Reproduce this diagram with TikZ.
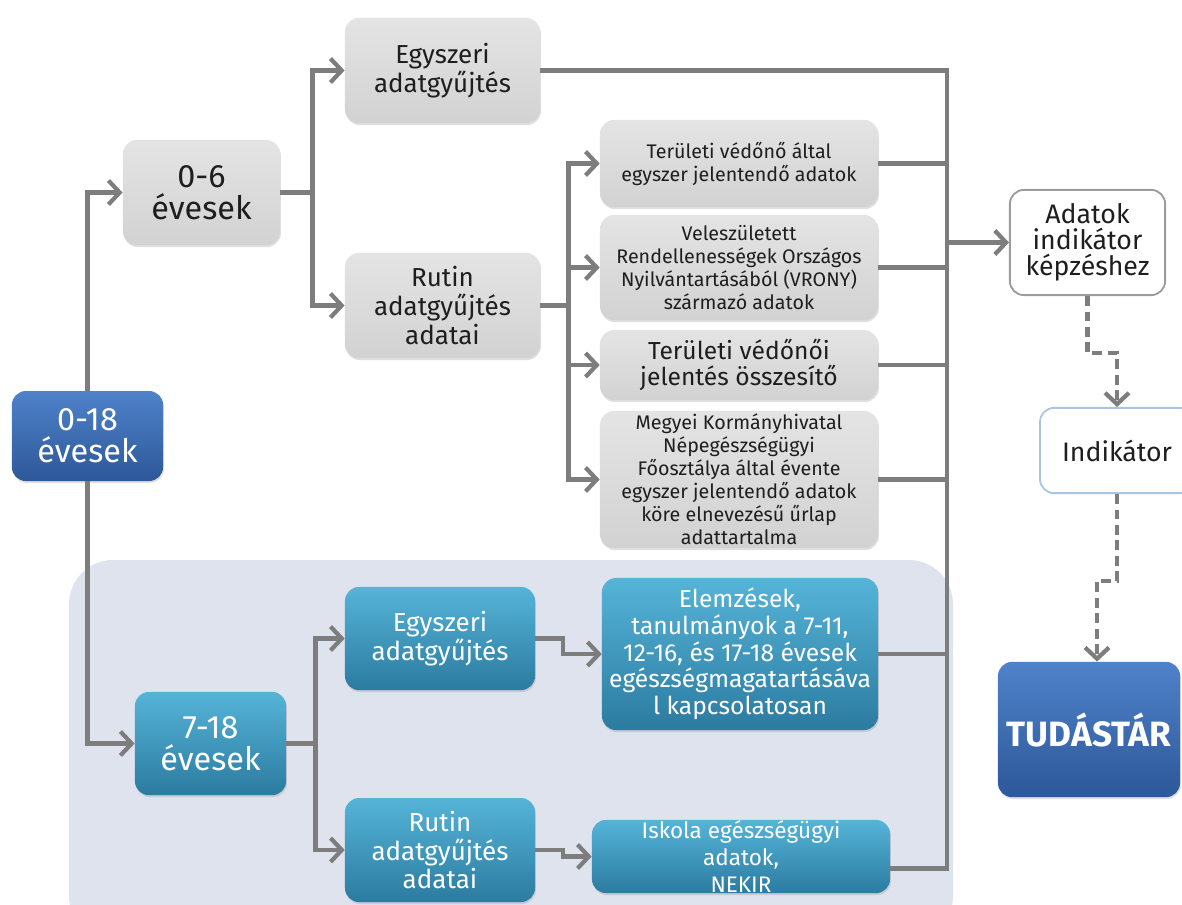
\documentclass[tikz,border=0pt]{standalone}
\usepackage{fontspec}
\setmainfont{Fira Sans}
\usetikzlibrary{arrows.meta,shadows}
\definecolor{graytop}{HTML}{E4E4E4}
\definecolor{graybot}{HTML}{D2D2D2}
\definecolor{graytext}{HTML}{1E1E1E}
\definecolor{tealtop}{HTML}{55B4D8}
\definecolor{tealbot}{HTML}{2C7BA0}
\definecolor{bluetop}{HTML}{4F82CA}
\definecolor{bluebot}{HTML}{2D5899}
\definecolor{panelblue}{HTML}{DEE3EE}
\definecolor{linegray}{HTML}{7D7D7D}
\definecolor{adatline}{HTML}{9C9C9C}
\definecolor{indline}{HTML}{A9C5E3}
\tikzset{
  box/.style={rounded corners=10pt, align=center, inner sep=2pt,
              drop shadow={opacity=0.25, shadow xshift=0.6pt, shadow yshift=-1.4pt}},
  graybox/.style={box, top color=graytop, bottom color=graybot, text=graytext},
  tealbox/.style={box, top color=tealtop, bottom color=tealbot, text=white},
  bluebox/.style={box, top color=bluetop, bottom color=bluebot, text=white},
  whitebox/.style={rounded corners=10pt, align=center, inner sep=2pt, fill=white,
                   line width=1.3pt, text=graytext},
  tealtxt/.style={align=center, inner sep=0pt, text=white},
  hugetxt/.style={font=\fontsize{23}{23}\selectfont},
  bigtxt/.style={font=\fontsize{18.5}{20.5}\selectfont},
  midtxt/.style={font=\fontsize{17.5}{19}\selectfont},
  smalltxt/.style={font=\fontsize{14}{16.3}\selectfont},
  conn/.style={draw=linegray, line width=3pt},
  arr/.style={conn, -{Straight Barb[length=8pt, width=17pt]}},
  dsh/.style={arr, dash pattern=on 7pt off 4pt},
}
\begin{document}
\begin{tikzpicture}[x=0.025cm, y=-0.025cm]
  \useasboundingbox (0,0) rectangle (1182,904);
  \fill[panelblue, rounded corners=1.1cm] (69,560) rectangle (953,940);

  \node[bluebox, hugetxt, minimum width=3.78cm, minimum height=2.25cm] (b018) at (87.5,436) {0-18\\évesek};
  \node[graybox, hugetxt, minimum width=3.93cm, minimum height=2.63cm] (g06) at (201.5,192.5) {0-6\\évesek};
  \node[graybox, bigtxt, minimum width=4.88cm, minimum height=2.63cm] (gEgy) at (442.5,70.5) {Egyszeri\\adatgyűjtés};
  \node[graybox, bigtxt, minimum width=4.88cm, minimum height=2.63cm] (gRut) at (442.5,305.5) {Rutin\\adatgyűjtés\\adatai};
  \node[graybox, smalltxt, minimum width=6.95cm, minimum height=2.18cm] (gTer1) at (739,163.5) {Területi védőnő által\\egyszer jelentendő adatok};
  \node[graybox, smalltxt, minimum width=6.95cm, minimum height=2.63cm] (gVel) at (739,267.5) {Veleszületett\\Rendellenességek Országos\\Nyilvántartásából (VRONY)\\származó adatok};
  \node[graybox, font=\fontsize{17.5}{18.5}\selectfont, minimum width=6.95cm, minimum height=1.75cm] (gTer2) at (739,365) {Területi védőnői\\jelentés összesítő};
  \node[graybox, smalltxt, minimum width=6.95cm, minimum height=3.43cm] (gMegy) at (739,479.5) {Megyei Kormányhivatal\\Népegészségügyi\\Főosztálya által évente\\egyszer jelentendő adatok\\köre elnevezésű űrlap\\adattartalma};

  \node[tealbox, hugetxt, minimum width=3.78cm, minimum height=2.58cm] (t718) at (210.5,743.5) {7-18\\évesek};
  \node[tealbox, bigtxt, minimum width=4.75cm, minimum height=2.58cm] (tEgy) at (440,638.5) {Egyszeri\\adatgyűjtés};
  \node[tealbox, bigtxt, minimum width=4.75cm, minimum height=2.6cm] (tRut) at (440,850) {Rutin\\adatgyűjtés\\adatai};
  \node[tealbox, midtxt, minimum width=6.9cm, minimum height=3.8cm] (tElem) at (740,654) {Elemzések,\\tanulmányok a 7-11,\\12-16, és 17-18 évesek\\egészségmagatartásáva\\l kapcsolatosan};
  \node[tealbox, minimum width=7.45cm, minimum height=1.83cm] (tIsk) at (741,856.5) {};
  \node[tealtxt, font=\fontsize{16}{19}\selectfont] (tIskTxt) at (tIsk.center) {Iskola egészségügyi\\adatok,\\NEKIR};

  \node[whitebox, draw=adatline, font=\fontsize{19}{18.5}\selectfont, minimum width=3.88cm, minimum height=2.63cm] (wAdat) at (1087.5,242.5) {Adatok\\indikátor\\képzéshez};
  \node[whitebox, draw=indline, font=\fontsize{19}{21}\selectfont, minimum width=3.85cm, minimum height=2.13cm] (wInd) at (1117,450.5) {Indikátor};
  \node[bluebox, font=\fontsize{25}{28}\selectfont\bfseries, minimum width=4.55cm, minimum height=3.38cm] (bTud) at (1089,729.5) {TUDÁSTÁR};

  \draw[arr] (b018.north) |- (g06.west);
  \draw[arr] (b018.south) |- (t718.west);
  \draw[conn] (g06.east) -- ++(32,0) coordinate (j06);
  \draw[arr] (j06) |- (gEgy.west);
  \draw[arr] (j06) |- (gRut.west);
  \draw[conn] (gRut.east) -- ++(28,0) coordinate (jRut);
  \draw[arr] (jRut) |- (gTer1.west);
  \draw[arr] (jRut) |- (gVel.west);
  \draw[arr] (jRut) |- (gTer2.west);
  \draw[arr] (jRut) |- (gMegy.west);
  \draw[conn] (t718.east) -- ++(29,0) coordinate (j718);
  \draw[arr] (j718) |- (tEgy.west);
  \draw[arr] (j718) |- (tRut.west);
  \draw[arr] (tEgy.east) -- ++(28,0) |- (tElem.west);
  \draw[arr] (tRut.east) -- ++(28,0) |- (tIsk.west);

  \coordinate (bus) at (947,0);
  \draw[conn] (gEgy.east) -- (gEgy.east -| bus) -- ([yshift=-0.3cm]tIsk.east -| bus) -- ([yshift=-0.3cm]tIsk.east);
  \draw[conn] (gTer1.east) -- (gTer1.east -| bus);
  \draw[conn] (gVel.east) -- (gVel.east -| bus);
  \draw[conn] (gTer2.east) -- (gTer2.east -| bus);
  \draw[conn] (gMegy.east) -- (gMegy.east -| bus);
  \draw[conn] (tElem.east) -- (tElem.east -| bus);
  \draw[arr] (wAdat.west -| bus) -- (wAdat.west);

  \draw[dsh] (wAdat.south) -- ++(0,57) -| (wInd.north);
  \draw[dsh] (wInd.south) -- ++(0,87) -| ([xshift=0.2cm]bTud.north);
\end{tikzpicture}
\end{document}
